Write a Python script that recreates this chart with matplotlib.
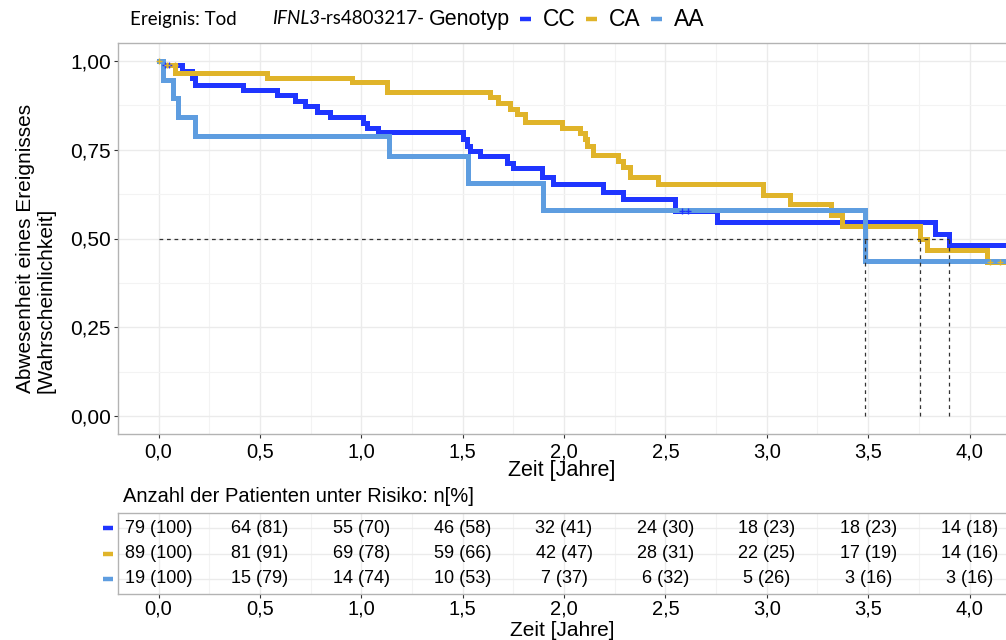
import numpy as np
import matplotlib
matplotlib.use("Agg")
import matplotlib.pyplot as plt
from matplotlib.ticker import MultipleLocator, FuncFormatter
from matplotlib.transforms import blended_transform_factory

plt.rcParams['font.family'] = ['Liberation Sans', 'DejaVu Sans']

# Kaplan-Meier step curves (time in years, survival probability)
groups = ["CC", "CA", "AA"]
colors = ["#1f35ff", "#e0b42a", "#5e9de0"]

t_cc = [0.0, 0.022, 0.116, 0.165, 0.180, 0.417, 0.584, 0.673, 0.722, 0.782, 0.846,
        1.008, 1.028, 1.082, 1.501, 1.521, 1.536, 1.585, 1.718, 1.748, 1.891, 1.945,
        2.192, 2.290, 2.547, 2.754, 3.829, 3.898, 4.25]
s_cc = [1.000, 0.987, 0.972, 0.952, 0.932, 0.918, 0.904, 0.888, 0.874, 0.857, 0.843,
        0.826, 0.812, 0.800, 0.781, 0.761, 0.747, 0.733, 0.713, 0.697, 0.674, 0.654,
        0.632, 0.610, 0.576, 0.546, 0.514, 0.481, 0.481]

t_ca = [0.0, 0.020, 0.081, 0.535, 0.954, 1.127, 1.635, 1.674, 1.733, 1.768, 1.807,
        1.990, 2.078, 2.103, 2.113, 2.142, 2.265, 2.290, 2.325, 2.463, 2.981, 3.114,
        3.316, 3.370, 3.755, 3.789, 4.085, 4.25]
s_ca = [1.000, 0.989, 0.966, 0.952, 0.940, 0.911, 0.897, 0.882, 0.865, 0.851, 0.829,
        0.812, 0.798, 0.781, 0.761, 0.736, 0.719, 0.700, 0.674, 0.652, 0.621, 0.596,
        0.565, 0.534, 0.500, 0.467, 0.433, 0.433]

t_aa = [0.0, 0.022, 0.072, 0.096, 0.180, 1.137, 1.526, 1.896, 3.486, 4.25]
s_aa = [1.000, 0.947, 0.895, 0.842, 0.789, 0.732, 0.655, 0.581, 0.436, 0.436]

# censored observations
cens_cc_t = [0.03, 0.05, 2.58, 2.61]
cens_ca_t = [0.0, 0.04, 0.08, 4.10, 4.15]

# median survival times
medians = [3.898, 3.755, 3.486]

# numbers at risk: n (%)
risk_times = [0.0, 0.5, 1.0, 1.5, 2.0, 2.5, 3.0, 3.5, 4.0]
risk_cc = ["79 (100)", "64 (81)", "55 (70)", "46 (58)", "32 (41)", "24 (30)", "18 (23)", "18 (23)", "14 (18)"]
risk_ca = ["89 (100)", "81 (91)", "69 (78)", "59 (66)", "42 (47)", "28 (31)", "22 (25)", "17 (19)", "14 (16)"]
risk_aa = ["19 (100)", "15 (79)", "14 (74)", "10 (53)", "7 (37)", "6 (32)", "5 (26)", "3 (16)", "3 (16)"]

W, H = 1006, 640
fig = plt.figure(figsize=(W / 100, H / 100), dpi=100)

def px_box(left, top, right, bottom):
    return [left / W, 1 - bottom / H, (right - left) / W, (bottom - top) / H]

comma1 = FuncFormatter(lambda v, p: f"{v:.1f}".replace(".", ","))
comma2 = FuncFormatter(lambda v, p: f"{v:.2f}".replace(".", ","))
XLIM = (-0.2, 4.18)

def style_axes(ax):
    ax.set_xlim(*XLIM)
    ax.xaxis.set_major_locator(MultipleLocator(0.5))
    ax.xaxis.set_minor_locator(MultipleLocator(0.25))
    ax.xaxis.set_major_formatter(comma1)
    ax.grid(which="major", color="#ebebeb", lw=1.0)
    ax.grid(which="minor", axis="x", color="#f3f3f3", lw=0.8)
    ax.set_axisbelow(True)
    for side in ["left", "top", "bottom"]:
        ax.spines[side].set_color("#b3b3b3")
        ax.spines[side].set_linewidth(1.0)
    ax.spines["right"].set_visible(False)
    ax.tick_params(which="major", length=3, width=0.8, color="#333333", pad=2)
    ax.tick_params(which="minor", length=0)

# main survival panel
ax = fig.add_axes(px_box(118, 43, 1006, 434))
style_axes(ax)
ax.set_ylim(-0.05, 1.05)
ax.yaxis.set_major_locator(MultipleLocator(0.25))
ax.yaxis.set_minor_locator(MultipleLocator(0.125))
ax.yaxis.set_major_formatter(comma2)
ax.grid(which="minor", axis="y", color="#f3f3f3", lw=0.8)
ax.tick_params(axis="x", labelsize=14.5, pad=3)
ax.tick_params(axis="y", labelsize=15)

curves = [(t_cc, s_cc), (t_ca, s_ca), (t_aa, s_aa)]
for (t, s), c in zip(curves, colors):
    ax.step(t, s, where="post", color=c, lw=3.6, solid_joinstyle="miter", zorder=3)

for ct, (t, s), c in [(cens_cc_t, curves[0], colors[0]), (cens_ca_t, curves[1], colors[1])]:
    idx = np.searchsorted(t, ct, side="right") - 1
    ax.plot(ct, np.array(s)[idx], ls="none", marker="+", ms=4, mew=1.0, color=c, zorder=4)

ax.plot([0, max(medians)], [0.5, 0.5], ls=(0, (3, 3)), color="#333333", lw=0.9, zorder=5)
for m in medians:
    ax.plot([m, m], [0, 0.5], ls=(0, (3, 3)), color="#333333", lw=0.9, zorder=5)

ax.set_xlabel("Zeit [Jahre]", fontsize=15.5, labelpad=-1)
fig.text(36 / W, 1 - 248 / H, "Abwesenheit eines Ereignisses\n[Wahrscheinlichkeit]",
         rotation=90, ha="center", va="center", multialignment="left", fontsize=15,
         linespacing=1.1)

# header legend, pieces laid out one after another
renderer = fig.canvas.get_renderer()
head_y = 1 - 19 / H
calibri_like = ["Lato", "DejaVu Sans"]
fig.text(130 / W, head_y, "Ereignis: Tod", fontsize=13.5, family=calibri_like,
         ha="left", va="center")
pieces = [("IFNL3", dict(family=calibri_like, style="italic", fontsize=13.5)),
          ("-rs4803217-", dict(family=calibri_like, fontsize=13.5)),
          ("Genotyp", dict(fontsize=15.5))]
x_px = 272
for txt, kw in pieces:
    t_obj = fig.text(x_px / W, head_y, txt, ha="left", va="center", **kw)
    x_px += t_obj.get_window_extent(renderer).width
    if txt.endswith("-"):
        x_px += 4
x_px += 10
for g, c in zip(groups, colors):
    fig.add_artist(plt.Line2D([x_px / W, (x_px + 11) / W], [head_y, head_y],
                              color=c, lw=3.2, solid_capstyle="butt"))
    x_px += 23
    t_obj = fig.text(x_px / W, head_y, g, fontsize=16.5, ha="left", va="center")
    x_px += t_obj.get_window_extent(renderer).width + 10

# numbers-at-risk table
fig.text(123 / W, 1 - 496 / H, "Anzahl der Patienten unter Risiko: n[%]",
         fontsize=14.5, ha="left", va="center")
axr = fig.add_axes(px_box(118, 513, 1006, 594))
style_axes(axr)
axr.set_ylim(0.4, 3.6)
axr.set_yticks([1, 2, 3])
axr.set_yticklabels([])
axr.tick_params(axis="y", length=0)
axr.tick_params(axis="x", labelsize=14.5, pad=1)
axr.set_xlabel("Zeit [Jahre]", fontsize=15, labelpad=1.5)

trans = blended_transform_factory(axr.transAxes, axr.transData)
for row, vals, c in zip([3, 2, 1], [risk_cc, risk_ca, risk_aa], colors):
    for x, v in zip(risk_times, vals):
        axr.text(x, row, v, ha="center", va="center", fontsize=13)
    axr.add_line(plt.Line2D([-15 / 888, -5 / 888], [row, row], transform=trans,
                            color=c, lw=3.2, solid_capstyle="butt", clip_on=False))

fig.savefig("out.png", dpi=100)
